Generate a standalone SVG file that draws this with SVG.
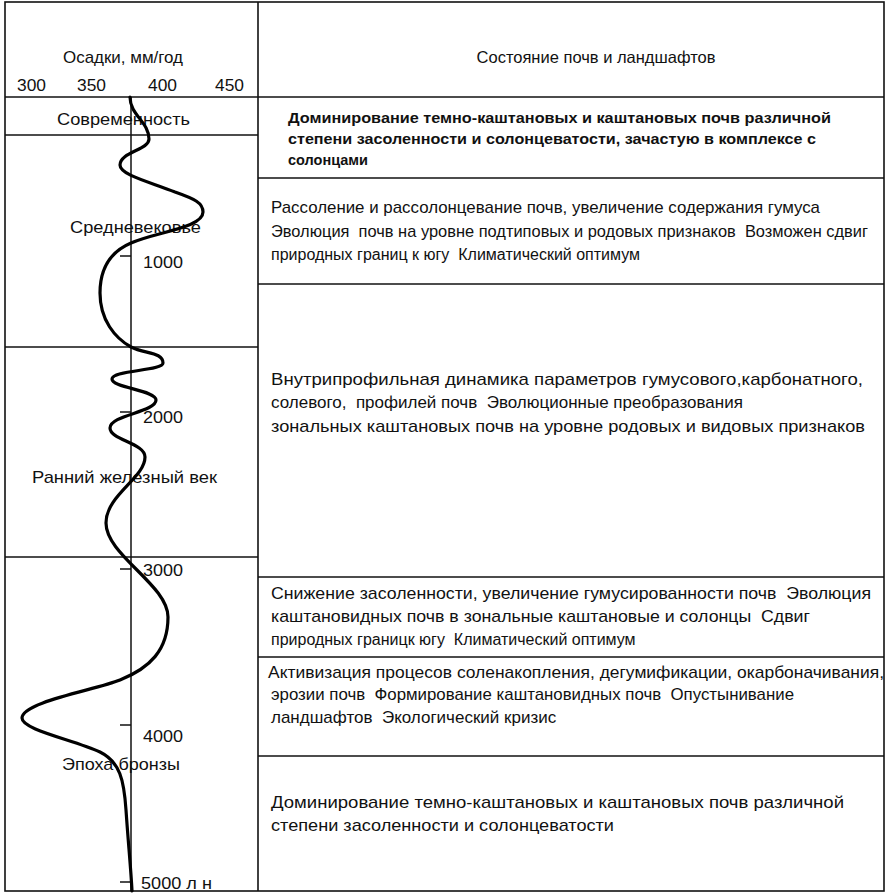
<svg xmlns="http://www.w3.org/2000/svg" width="887" height="893" viewBox="0 0 887 893">
<style>
.grid{stroke:#111;stroke-width:1.6;fill:none}
.axis{stroke:#111;stroke-width:1.5;fill:none}
.curve{stroke:#000;stroke-width:3.2;fill:none;stroke-linecap:round;stroke-linejoin:round}
text{font-family:"Liberation Sans",Arial,sans-serif;fill:#111}
.lbl{font-size:17px}
.hdr{font-size:16.5px}
.body{font-size:17px}
.narrow{font-size:16px}
.bold{font-size:15px;font-weight:bold}
</style>
<rect width="887" height="893" fill="#fff"/>
<g id="grid">
<rect class="grid" x="5" y="2" width="879" height="889"/>
<line class="grid" x1="258" y1="2" x2="258" y2="891"/>
<line class="grid" x1="5" y1="97" x2="884" y2="97"/>
<line class="grid" x1="5" y1="135" x2="258" y2="135"/>
<line class="grid" x1="5" y1="347" x2="258" y2="347"/>
<line class="grid" x1="5" y1="557" x2="258" y2="557"/>
<line class="grid" x1="258" y1="178" x2="884" y2="178"/>
<line class="grid" x1="258" y1="284" x2="884" y2="284"/>
<line class="grid" x1="258" y1="577" x2="884" y2="577"/>
<line class="grid" x1="258" y1="657" x2="884" y2="657"/>
<line class="grid" x1="258" y1="756" x2="884" y2="756"/>
</g>
<g id="header-left">
<text class="lbl" x="63" y="63" textLength="120" lengthAdjust="spacingAndGlyphs">Осадки, мм/год</text>
<text class="lbl" x="17" y="91" textLength="29" lengthAdjust="spacingAndGlyphs">300</text>
<text class="lbl" x="77" y="91" textLength="29" lengthAdjust="spacingAndGlyphs">350</text>
<text class="lbl" x="148" y="91" textLength="29" lengthAdjust="spacingAndGlyphs">400</text>
<text class="lbl" x="215" y="91" textLength="29" lengthAdjust="spacingAndGlyphs">450</text>
</g>
<g id="header-right">
<text class="hdr" x="596" y="63" text-anchor="middle">Состояние почв и ландшафтов</text>
</g>
<g id="axis">
<line class="axis" x1="131" y1="97" x2="131" y2="891"/>
<line class="axis" x1="120" y1="256" x2="131" y2="256"/>
<line class="axis" x1="120" y1="412" x2="131" y2="412"/>
<line class="axis" x1="120" y1="569" x2="131" y2="569"/>
<line class="axis" x1="120" y1="725" x2="131" y2="725"/>
<line class="axis" x1="120" y1="882" x2="131" y2="882"/>
<text class="lbl" x="143" y="268" textLength="40" lengthAdjust="spacingAndGlyphs">1000</text>
<text class="lbl" x="143" y="423" textLength="40" lengthAdjust="spacingAndGlyphs">2000</text>
<text class="lbl" x="143" y="576" textLength="40" lengthAdjust="spacingAndGlyphs">3000</text>
<text class="lbl" x="143" y="742" textLength="40" lengthAdjust="spacingAndGlyphs">4000</text>
<text class="lbl" x="141" y="889" textLength="71" lengthAdjust="spacingAndGlyphs">5000 л н</text>
</g>
<g id="periods">
<text class="lbl" x="57" y="125" textLength="133" lengthAdjust="spacingAndGlyphs">Современность</text>
<text class="lbl" x="70" y="233" textLength="131" lengthAdjust="spacingAndGlyphs">Средневековье</text>
<text class="lbl" x="32" y="483" textLength="185" lengthAdjust="spacingAndGlyphs">Ранний железный век</text>
<text class="lbl" x="62" y="770" textLength="118" lengthAdjust="spacingAndGlyphs">Эпоха бронзы</text>
</g>
<g id="connectors">
<path class="curve" d="M130 97 C130 115 149 122 149 139 C149 150 120 152 120 165 C120 175 150 182 175 192 C195 199 203 203 203 212 C203 228 155 232 131 243 C110 252 100 268 100 293 C100 320 115 338 131 347 C145 354 163 352 163 363 C163 371 112 370 112 379 C112 388 156 390 156 400 C156 412 110 415 110 428 C110 440 145 443 145 457 C145 478 106 495 106 523 C106 555 168 585 168 617 C168 650 150 668 120 680 C95 690 22 702 22 718 C22 730 75 740 100 752 C120 762 124 780 126 810 C128 840 131 870 132 891"/>
</g>
<g id="cell-modern">
<text class="bold" x="288" y="123" textLength="543" lengthAdjust="spacingAndGlyphs">Доминирование темно-каштановых и каштановых почв различной</text>
<text class="bold" x="288" y="144" textLength="528" lengthAdjust="spacingAndGlyphs">степени засоленности и солонцеватости, зачастую в комплексе с</text>
<text class="bold" x="288" y="165" textLength="80" lengthAdjust="spacingAndGlyphs">солонцами</text>
</g>
<g id="cell-medieval">
<text class="body" x="271" y="213" textLength="549" lengthAdjust="spacingAndGlyphs">Рассоление и рассолонцевание почв, увеличение содержания гумуса</text>
<text class="body" x="271" y="237" textLength="597" lengthAdjust="spacingAndGlyphs" xml:space="preserve">Эволюция  почв на уровне подтиповых и родовых признаков  Возможен сдвиг</text>
<text class="narrow" x="271" y="260" xml:space="preserve">природных границ к югу  Климатический оптимум</text>
</g>
<g id="cell-iron">
<text class="body" x="271" y="385" textLength="592" lengthAdjust="spacingAndGlyphs">Внутрипрофильная динамика параметров гумусового,карбонатного,</text>
<text class="body" x="271" y="408" xml:space="preserve">солевого,  профилей почв  Эволюционные преобразования</text>
<text class="body" x="271" y="432" textLength="594" lengthAdjust="spacingAndGlyphs">зональных каштановых почв на уровне родовых и видовых признаков</text>
</g>
<g id="cell-optimum">
<text class="body" x="271" y="599" textLength="600" lengthAdjust="spacingAndGlyphs" xml:space="preserve">Снижение засоленности, увеличение гумусированности почв  Эволюция</text>
<text class="body" x="271" y="622" textLength="539" lengthAdjust="spacingAndGlyphs" xml:space="preserve">каштановидных почв в зональные каштановые и солонцы  Сдвиг</text>
<text class="narrow" x="271" y="645" xml:space="preserve">природных границк югу  Климатический оптимум</text>
</g>
<g id="cell-crisis">
<text class="body" x="268" y="678" textLength="616" lengthAdjust="spacingAndGlyphs">Активизация процесов соленакопления, дегумификации, окарбоначивания,</text>
<text class="body" x="271" y="700" textLength="523" lengthAdjust="spacingAndGlyphs" xml:space="preserve">эрозии почв  Формирование каштановидных почв  Опустынивание</text>
<text class="body" x="271" y="723" xml:space="preserve">ландшафтов  Экологический кризис</text>
</g>
<g id="cell-bronze">
<text class="body" x="271" y="808" textLength="573" lengthAdjust="spacingAndGlyphs">Доминирование темно-каштановых и каштановых почв различной</text>
<text class="body" x="271" y="831" textLength="343" lengthAdjust="spacingAndGlyphs">степени засоленности и солонцеватости</text>
</g>
</svg>
